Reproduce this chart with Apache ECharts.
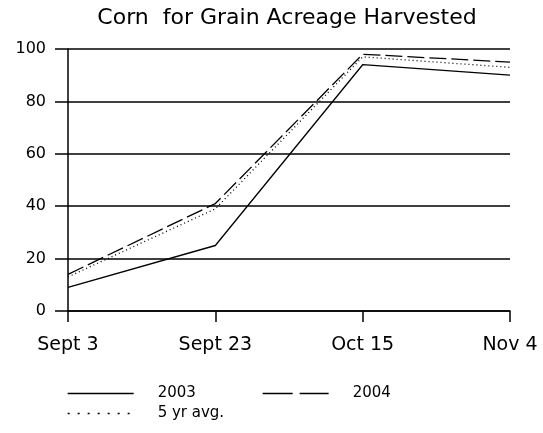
<!DOCTYPE html>
<html>
<head>
<meta charset="utf-8">
<script src="https://cdn.jsdelivr.net/npm/echarts@6/dist/echarts.min.js"></script>
<style>
html, body { margin: 0; padding: 0; background: #fff; }
#chart { width: 543px; height: 433px; }
</style>
</head>
<body>
<div id="chart"></div>
<script>
// data
var dates = ['Sept 3', 'Sept 23', 'Oct 15', 'Nov 4'];
var yr2003 = [9, 25, 94, 90];
var yr2004 = [14, 41, 98, 95];
var avg5 = [13, 39, 97, 93];
var yMin = 0, yMax = 100, yStep = 20;

var font = 'DejaVu Sans';
var chart = echarts.init(document.getElementById('chart'));

function legendFor(name, left, top, dash) {
    return {
        data: [name],
        left: left,
        top: top,
        padding: 0,
        itemWidth: 66,
        itemHeight: 14,
        selectedMode: false,
        itemStyle: { opacity: 0 },
        lineStyle: { type: dash, width: 1.3, color: '#000' },
        textStyle: { fontFamily: font, fontSize: 15, color: '#000', padding: [0, 0, 0, 19] }
    };
}

var option = {
    animation: false,
    backgroundColor: '#fff',
    title: {
        text: 'Corn  for Grain Acreage Harvested',
        left: 282,
        textAlign: 'center',
        top: 2,
        textStyle: { fontFamily: font, fontSize: 22, fontWeight: 'normal', color: '#000' }
    },
    legend: [
        legendFor('2003', 67, 386, 'solid'),
        legendFor('2004', 262, 386, [30, 7]),
        legendFor('5 yr avg.', 67, 406, [2, 8])
    ],
    grid: { left: 68, right: 33, top: 49, bottom: 122, containLabel: false, outerBoundsMode: 'none' },
    xAxis: {
        type: 'category',
        data: dates,
        boundaryGap: false,
        axisLine: { lineStyle: { color: '#000', width: 1.5 } },
        axisTick: { show: true, length: 11, lineStyle: { color: '#000', width: 1.5 } },
        axisLabel: { fontFamily: font, fontSize: 19, color: '#000', margin: 25 },
        splitLine: { show: false }
    },
    yAxis: {
        type: 'value',
        min: yMin,
        max: yMax,
        interval: yStep,
        axisLine: { show: true, lineStyle: { color: '#000', width: 1.5 } },
        axisTick: { show: true, length: 13, lineStyle: { color: '#000', width: 1.5 } },
        axisLabel: { fontFamily: font, fontSize: 16, color: '#000', margin: 22 },
        splitLine: { show: true, lineStyle: { color: '#000', width: 1.5 } }
    },
    series: [
        {
            name: '2003', type: 'line', data: yr2003, symbol: 'none',
            lineStyle: { color: '#000', width: 1.3, type: 'solid' }
        },
        {
            name: '2004', type: 'line', data: yr2004, symbol: 'none',
            lineStyle: { color: '#000', width: 1.3, type: [17, 5] }
        },
        {
            name: '5 yr avg.', type: 'line', data: avg5, symbol: 'none',
            lineStyle: { color: '#000', width: 1.3, type: [1, 3] }
        }
    ]
};
chart.setOption(option);
</script>
</body>
</html>
